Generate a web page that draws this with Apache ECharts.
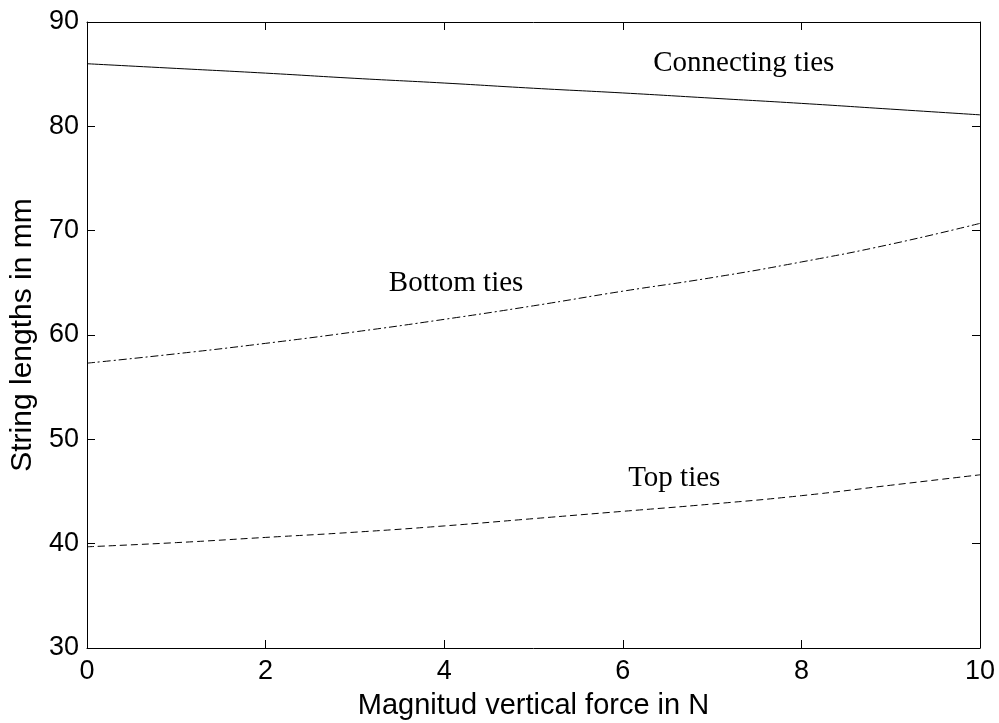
<!DOCTYPE html>
<html>
<head>
<meta charset="utf-8">
<script src="https://cdn.jsdelivr.net/npm/echarts@6/dist/echarts.min.js"></script>
<style>
  html, body { margin: 0; padding: 0; background: #fff; }
  #chart { width: 999px; height: 723px; }
</style>
</head>
<body>
<div id="chart"></div>
<script>
// force values (N)
const force = [0, 1, 2, 3, 4, 5, 6, 7, 8, 9, 10];
// string lengths (mm)
const connectingTies = [86.0, 85.55, 85.1, 84.6, 84.15, 83.65, 83.2, 82.7, 82.2, 81.65, 81.1];
const bottomTies = [57.3, 58.2, 59.2, 60.3, 61.5, 62.8, 64.2, 65.5, 67.0, 68.7, 70.7];
const topTies = [39.7, 40.1, 40.6, 41.1, 41.7, 42.4, 43.1, 43.8, 44.6, 45.6, 46.6];
// text labels placed in data coords
const labels = [
  { text: "Connecting ties", x: 6.34, y: 86.0 },
  { text: "Bottom ties", x: 3.38, y: 64.9 },
  { text: "Top ties", x: 6.06, y: 46.3 },
];

const chart = echarts.init(document.getElementById("chart"));

const pairs = (ys) => force.map((x, i) => [x, ys[i]]);

const axisCommon = {
  type: "value",
  axisLine: { show: true, onZero: false, lineStyle: { color: "#000", width: 1 } },
  axisTick: { show: true, inside: true, length: 8, lineStyle: { color: "#000" } },
  splitLine: { show: false },
};

const lineSeries = (name, ys, dash) => ({
  name: name,
  type: "line",
  data: pairs(ys),
  showSymbol: false,
  smooth: true,
  lineStyle: { color: "#000", width: 1, type: dash },
  silent: true,
});

chart.setOption({
  animation: false,
  grid: {
    left: 87, top: 22, right: 19, bottom: 75,
    containLabel: false,
    outerBoundsMode: "none",
  },
  xAxis: [
    Object.assign({}, axisCommon, {
      min: 0, max: 10, interval: 2,
      position: "bottom",
      axisLabel: { color: "#000", fontSize: 27, fontFamily: "Liberation Sans", margin: 10 },
      name: "Magnitud vertical force in N",
      nameLocation: "middle",
      nameGap: 43,
      nameTextStyle: { color: "#000", fontSize: 29, fontFamily: "Liberation Sans" },
    }),
    Object.assign({}, axisCommon, {
      min: 0, max: 10, interval: 2,
      position: "top",
      axisLabel: { show: false },
    }),
  ],
  yAxis: [
    Object.assign({}, axisCommon, {
      min: 30, max: 90, interval: 10,
      position: "left",
      axisLabel: { color: "#000", fontSize: 27, fontFamily: "Liberation Sans", margin: 8 },
      name: "String lengths in mm",
      nameLocation: "middle",
      nameGap: 49,
      nameTextStyle: { color: "#000", fontSize: 30, fontFamily: "Liberation Sans" },
    }),
    Object.assign({}, axisCommon, {
      min: 30, max: 90, interval: 10,
      position: "right",
      axisLabel: { show: false },
    }),
  ],
  series: [
    lineSeries("Connecting ties", connectingTies, "solid"),
    lineSeries("Bottom ties", bottomTies, [8, 3, 2, 3]),
    lineSeries("Top ties", topTies, [7, 4]),
  ],
});

chart.setOption({
  graphic: labels.map((l) => {
    const p = chart.convertToPixel({ xAxisIndex: 0, yAxisIndex: 0 }, [l.x, l.y]);
    return {
      type: "text",
      x: p[0],
      y: p[1],
      style: {
        text: l.text,
        fill: "#000",
        font: "29px 'Liberation Serif'",
        textAlign: "left",
        textVerticalAlign: "middle",
      },
    };
  }),
});
</script>
</body>
</html>
